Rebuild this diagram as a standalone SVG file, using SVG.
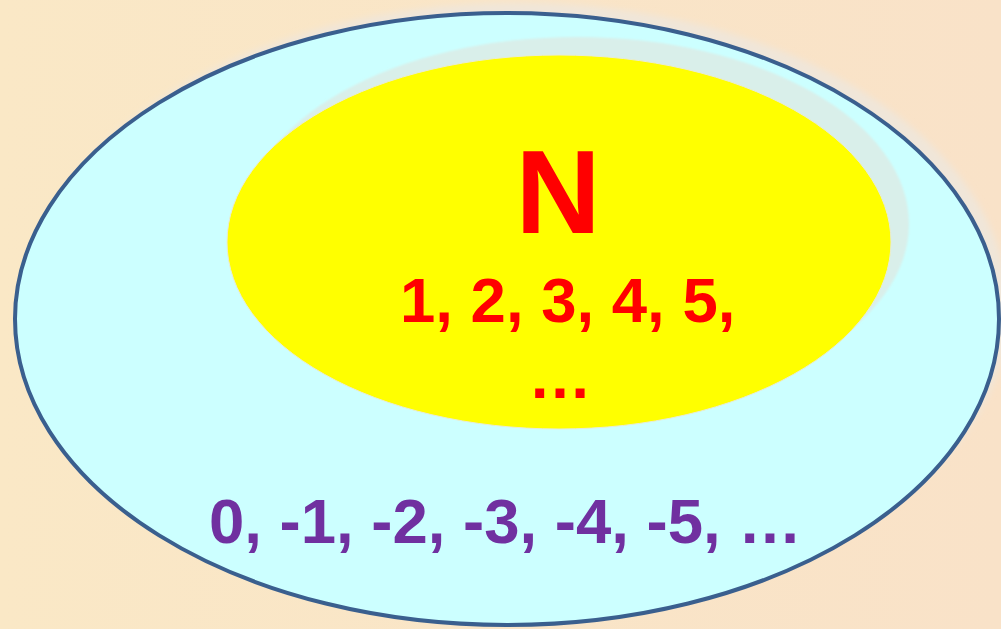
<svg xmlns="http://www.w3.org/2000/svg" width="1001" height="629" viewBox="0 0 1001 629">
  <defs>
    <linearGradient id="bg" x1="0" y1="0" x2="1" y2="0">
      <stop offset="0" stop-color="#fae8c6"/>
      <stop offset="1" stop-color="#f9e2c8"/>
    </linearGradient>
    <filter id="soft" x="-10%" y="-10%" width="120%" height="120%">
      <feGaussianBlur stdDeviation="3"/>
    </filter>
    <filter id="soft1" x="-10%" y="-10%" width="120%" height="120%">
      <feGaussianBlur stdDeviation="1.2"/>
    </filter>
  </defs>
  <style>
    .bold { font-family: "Liberation Sans", Arial, sans-serif; font-weight: bold; }
    .red { fill: #ff0000; }
    .purple { fill: #7030a0; }
  </style>
  <rect x="0" y="0" width="1001" height="629" fill="url(#bg)"/>
  <g id="outer-set">
    <ellipse cx="517" cy="309" rx="491" ry="306" fill="#f0e6d9" filter="url(#soft)"/>
    <ellipse cx="507" cy="319" rx="492" ry="306" fill="#ccffff" stroke="#3a5f8e" stroke-width="4"/>
    <text class="bold purple" x="209" y="543" font-size="63.5">0, -1, -2, -3, -4, -5, …</text>
  </g>
  <g id="inner-set">
    <ellipse cx="577" cy="224" rx="332" ry="187" fill="#d9efea" filter="url(#soft1)"/>
    <ellipse cx="559" cy="242" rx="332" ry="187" fill="#ffff00" stroke="#e8ecd8" stroke-width="1"/>
    <text class="bold red" x="558" y="233" font-size="118" text-anchor="middle">N</text>
    <text class="bold red" x="400" y="322" font-size="63.5">1, 2, 3, 4, 5,</text>
    <text class="bold red" x="560" y="398" font-size="63.5" text-anchor="middle">…</text>
  </g>
</svg>
